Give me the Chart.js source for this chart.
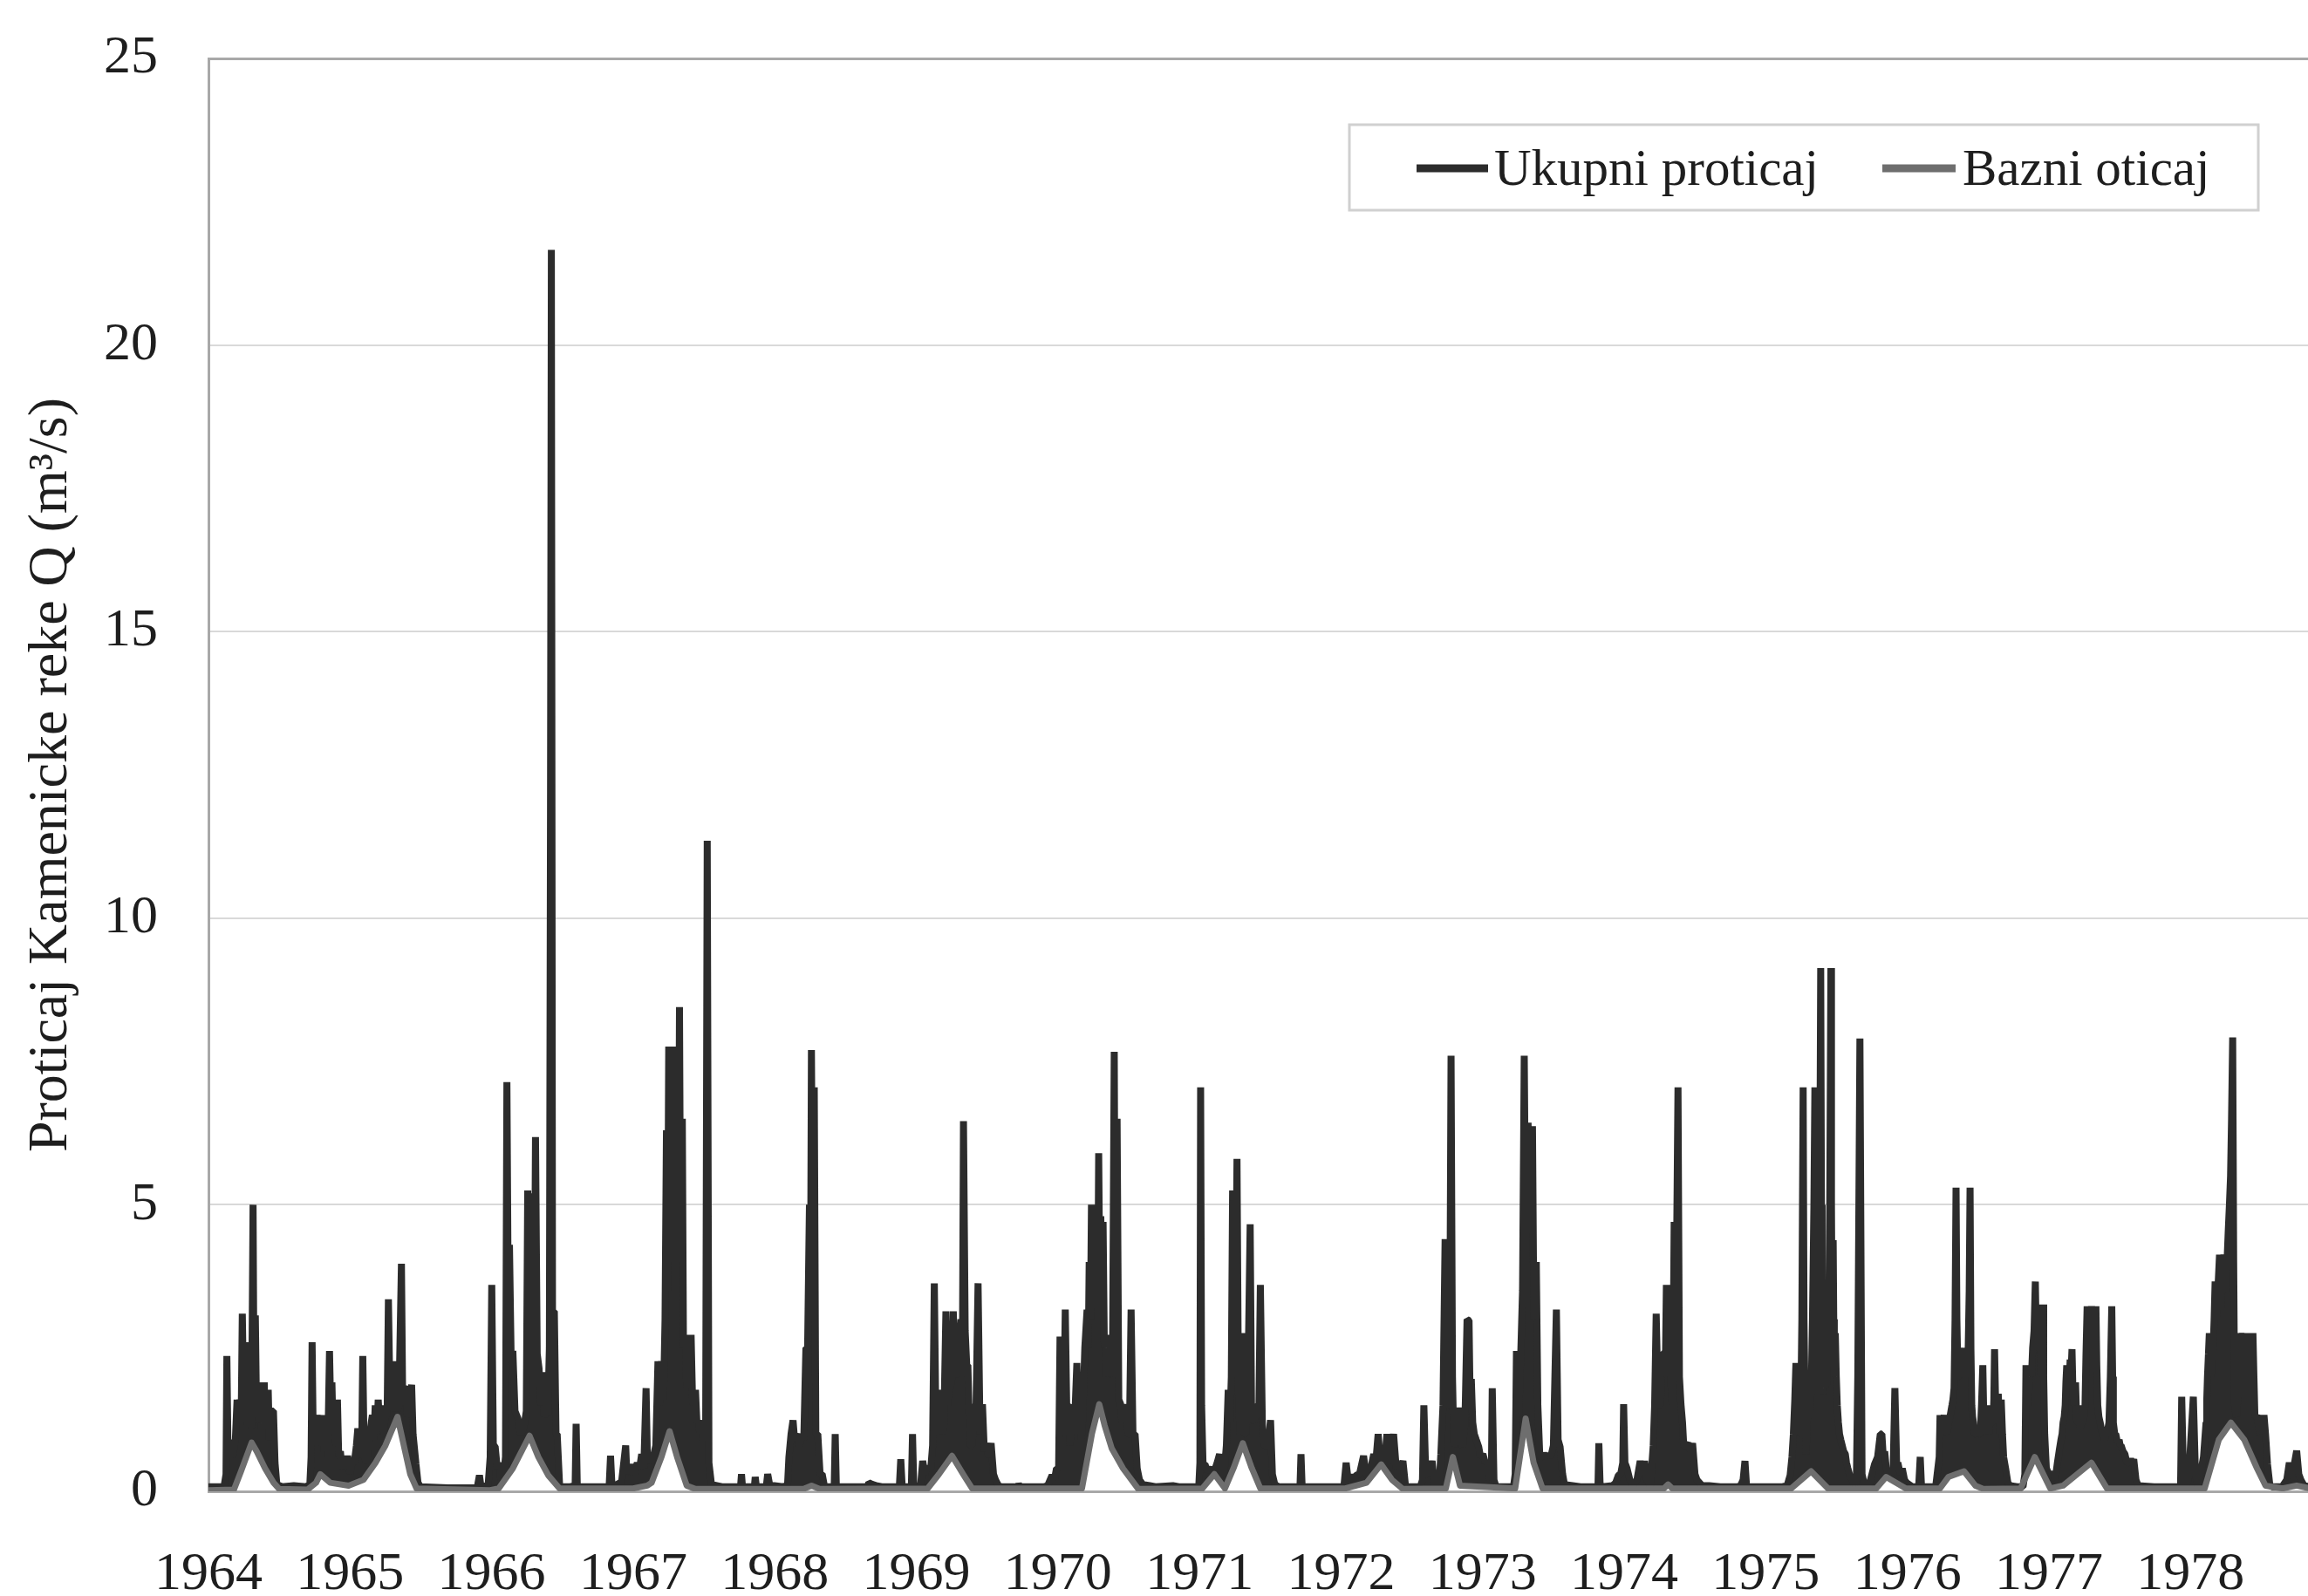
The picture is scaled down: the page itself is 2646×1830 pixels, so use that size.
<!DOCTYPE html>
<html>
<head>
<meta charset="utf-8">
<script src="https://cdn.jsdelivr.net/npm/chart.js@4.4.1/dist/chart.umd.min.js"></script>
<style>
html,body{margin:0;padding:0;background:#ffffff;}
canvas{display:block;}
</style>
</head>
<body>
<canvas id="chart" width="2646" height="1830"></canvas>
<script>
// ---------------- DATA ----------------
const startYear = 1964;                       // time values below are years since 1 Jan 1964
const yearLabels = [1964,1965,1966,1967,1968,1969,1970,1971,1972,1973,1974,1975,1976,1977,1978];
const yTicks = [0,5,10,15,20,25];
const seriesNames = ['Ukupni proticaj','Bazni oticaj'];
const axisTitle = 'Proticaj Kamenicke reke Q (m³/s)';

// Ukupni proticaj (total discharge), [t, Q]
const total1964 = [[0.000,0.08],[0.110,0.08],[0.124,0.3],[0.130,2.36],[0.138,0.7],[0.150,0.65],[0.162,0.9],[0.171,0.6],[0.190,0.9],[0.202,1.6],[0.212,1.2],[0.222,1.6],[0.231,1.2],[0.239,3.1],[0.249,1.5],[0.263,2.6],[0.270,1.3],[0.278,1.15],[0.290,1.4],[0.304,1.1],[0.315,5.0],[0.322,1.6],[0.331,3.07],[0.340,1.3],[0.350,1.5],[0.356,1.2],[0.364,1.5],[0.372,1.1],[0.380,1.9],[0.387,1.2],[0.394,1.9],[0.401,1.1],[0.410,1.5],[0.422,1.77],[0.430,0.9],[0.445,1.4],[0.459,1.4],[0.470,0.5],[0.483,0.12],[0.520,0.08],[0.603,0.1],[0.690,0.08]];
const total1965 = [[0.716,0.12],[0.725,0.6],[0.732,2.6],[0.740,0.9],[0.746,1.3],[0.756,0.8],[0.767,1.33],[0.777,0.9],[0.788,1.33],[0.798,0.8],[0.808,1.33],[0.818,0.7],[0.829,1.2],[0.842,0.6],[0.855,2.45],[0.865,1.2],[0.872,1.9],[0.880,1.0],[0.890,1.6],[0.900,0.8],[0.911,1.6],[0.920,0.6],[0.932,0.7],[0.942,0.4],[0.952,0.6],[0.965,0.4],[0.983,0.62],[1.000,0.3],[1.014,0.5],[1.030,0.5],[1.045,0.8],[1.055,1.1],[1.070,0.6],[1.082,0.7],[1.090,2.36],[1.100,0.6],[1.117,0.5],[1.135,0.9],[1.150,1.2],[1.158,1.33],[1.168,0.9],[1.178,1.5],[1.188,1.0],[1.199,1.6],[1.210,1.1],[1.230,1.33],[1.240,1.0],[1.250,1.5],[1.262,1.3],[1.271,3.35],[1.282,1.6],[1.292,1.9],[1.302,2.27],[1.312,1.4],[1.322,1.8],[1.332,1.4],[1.345,1.5],[1.363,3.97],[1.372,1.5],[1.385,1.8],[1.394,1.83],[1.405,1.3],[1.420,1.5],[1.435,1.86],[1.445,1.0],[1.466,0.47],[1.480,0.15],[1.497,0.08],[1.692,0.06],[1.898,0.06]];
const total1966 = [[1.914,0.28],[1.925,0.08],[1.975,0.1],[1.990,0.6],[2.001,3.6],[2.012,0.8],[2.025,0.78],[2.040,0.4],[2.052,0.5],[2.065,0.2],[2.083,0.25],[2.098,0.6],[2.108,7.14],[2.118,3.0],[2.126,4.3],[2.138,2.3],[2.150,2.45],[2.165,1.4],[2.186,1.27],[2.205,1.0],[2.227,1.1],[2.245,1.4],[2.255,5.25],[2.265,2.0],[2.272,5.2],[2.282,2.6],[2.290,4.5],[2.300,2.0],[2.310,6.18],[2.322,2.4],[2.335,2.14],[2.348,1.5],[2.361,2.08],[2.372,1.3],[2.385,1.5],[2.397,1.33],[2.408,2.5],[2.416,11.9],[2.422,21.66],[2.430,3.14],[2.443,3.14],[2.455,1.0],[2.463,1.0],[2.480,0.12],[2.494,0.08],[2.556,0.08],[2.590,0.1],[2.597,1.18],[2.605,0.1],[2.618,0.08],[2.700,0.08],[2.830,0.08]];
const total1967 = [[2.840,0.62],[2.850,0.1],[2.870,0.1],[2.906,0.15],[2.915,0.1],[2.947,0.8],[2.955,0.3],[2.967,0.47],[2.980,0.3],[2.998,0.47],[3.010,0.3],[3.029,0.5],[3.045,0.4],[3.060,0.65],[3.075,0.4],[3.091,1.8],[3.100,0.6],[3.111,0.65],[3.125,0.5],[3.142,0.6],[3.160,0.8],[3.175,2.27],[3.185,1.5],[3.200,2.27],[3.214,1.6],[3.225,3.0],[3.235,6.3],[3.243,3.5],[3.251,7.76],[3.258,4.0],[3.265,7.76],[3.272,4.5],[3.282,7.76],[3.290,5.0],[3.296,7.76],[3.305,4.0],[3.312,6.5],[3.320,4.5],[3.327,8.45],[3.335,4.0],[3.347,6.5],[3.355,2.5],[3.368,2.73],[3.378,1.8],[3.389,2.73],[3.399,2.0],[3.409,2.73],[3.420,1.5],[3.440,1.77],[3.450,1.2],[3.461,1.24],[3.471,1.0],[3.481,1.24],[3.491,0.9],[3.502,1.24],[3.512,1.0],[3.523,11.35],[3.535,0.5],[3.553,0.12],[3.626,0.08],[3.728,0.08],[3.758,0.08],[3.765,0.3],[3.772,0.08],[3.856,0.08],[3.862,0.25],[3.870,0.08],[3.940,0.08],[3.950,0.3],[3.965,0.1],[3.996,0.1],[4.057,0.08]];
const total1968 = [[4.090,0.1],[4.100,0.6],[4.115,1.0],[4.129,1.24],[4.140,0.9],[4.160,1.0],[4.175,0.8],[4.191,1.0],[4.205,0.9],[4.220,2.5],[4.232,2.5],[4.245,5.0],[4.252,3.0],[4.259,7.7],[4.268,4.0],[4.279,7.05],[4.290,1.0],[4.304,1.0],[4.320,0.3],[4.335,0.3],[4.350,0.1],[4.366,0.08],[4.420,0.08],[4.427,1.0],[4.435,0.08],[4.551,0.08],[4.655,0.08]];
const total1969 = [[4.664,0.15],[4.690,0.12],[4.715,0.1],[4.756,0.08],[4.880,0.08],[4.890,0.56],[4.900,0.08],[4.965,0.08],[4.973,1.0],[4.982,0.08],[5.030,0.1],[5.045,0.53],[5.060,0.3],[5.075,0.4],[5.102,0.4],[5.115,0.8],[5.127,3.63],[5.138,1.2],[5.150,1.77],[5.165,1.0],[5.178,1.4],[5.193,1.0],[5.209,3.14],[5.220,1.5],[5.230,1.77],[5.240,1.8],[5.252,2.0],[5.261,3.14],[5.275,2.0],[5.291,2.1],[5.300,2.5],[5.315,3.0],[5.325,2.0],[5.333,6.46],[5.345,2.8],[5.356,2.2],[5.364,2.2],[5.378,0.8],[5.394,0.8],[5.410,1.5],[5.422,1.5],[5.436,3.63],[5.450,1.0],[5.467,1.52],[5.480,0.7],[5.497,0.84],[5.510,0.6],[5.528,0.84],[5.545,0.3],[5.559,0.2],[5.580,0.1],[5.600,0.08],[5.715,0.08],[5.723,0.12],[5.735,0.08],[5.867,0.08]];
const total1970 = [[5.900,0.08],[5.928,0.1],[5.959,0.28],[5.975,0.2],[5.990,0.4],[6.005,0.4],[6.015,2.7],[6.021,1.5],[6.030,2.7],[6.040,1.0],[6.052,3.17],[6.062,1.5],[6.072,1.52],[6.085,0.8],[6.103,1.52],[6.115,1.0],[6.134,2.24],[6.145,1.0],[6.155,1.27],[6.165,0.9],[6.175,1.27],[6.190,2.5],[6.206,3.17],[6.215,2.5],[6.221,4.0],[6.230,3.0],[6.237,5.0],[6.245,3.5],[6.258,5.0],[6.266,3.5],[6.274,4.5],[6.281,3.0],[6.288,5.9],[6.296,3.5],[6.303,4.8],[6.311,3.0],[6.319,4.7],[6.328,2.5],[6.336,2.73],[6.343,2.0],[6.350,2.73],[6.360,2.0],[6.371,2.2],[6.385,2.0],[6.398,7.67],[6.405,3.0],[6.418,6.5],[6.430,1.6],[6.443,1.52],[6.453,1.2],[6.463,1.52],[6.473,1.2],[6.484,1.52],[6.495,1.0],[6.505,1.0],[6.517,3.17],[6.530,1.0],[6.545,1.0],[6.560,0.4],[6.576,0.2],[6.600,0.12],[6.648,0.1],[6.689,0.08],[6.812,0.1],[6.854,0.08],[6.957,0.08]];
const total1971 = [[6.995,0.08],[7.003,0.5],[7.008,7.05],[7.015,1.5],[7.025,0.47],[7.039,0.47],[7.055,0.35],[7.080,0.4],[7.095,0.35],[7.111,0.4],[7.125,0.5],[7.142,0.65],[7.155,0.3],[7.173,0.28],[7.190,0.8],[7.203,1.77],[7.215,1.2],[7.225,2.0],[7.234,5.25],[7.245,2.0],[7.255,3.0],[7.265,5.8],[7.275,1.8],[7.286,1.0],[7.296,2.0],[7.306,2.76],[7.316,1.0],[7.327,1.0],[7.340,1.5],[7.358,4.66],[7.368,1.3],[7.378,1.3],[7.389,1.2],[7.405,1.5],[7.420,1.5],[7.430,3.6],[7.445,1.0],[7.461,0.78],[7.480,0.8],[7.495,1.1],[7.502,1.24],[7.515,0.3],[7.532,0.12],[7.560,0.08],[7.676,0.08],[7.710,0.08],[7.717,0.65],[7.725,0.08],[7.985,0.08]];
const total1972 = [[8.020,0.08],[8.036,0.5],[8.050,0.2],[8.067,0.28],[8.085,0.2],[8.108,0.28],[8.130,0.3],[8.159,0.62],[8.175,0.3],[8.190,0.28],[8.210,0.4],[8.231,0.65],[8.245,0.5],[8.262,1.0],[8.278,0.5],[8.293,0.65],[8.308,0.5],[8.324,1.0],[8.340,0.5],[8.354,0.6],[8.371,1.0],[8.390,0.4],[8.406,0.47],[8.420,0.4],[8.437,0.53],[8.455,0.1],[8.468,0.08],[8.560,0.08],[8.575,0.2],[8.585,1.5],[8.598,0.3],[8.612,0.3],[8.630,0.4],[8.643,0.53],[8.660,0.1],[8.674,0.08]];
const total1973 = [[8.695,0.2],[8.705,0.65],[8.720,1.5],[8.735,4.4],[8.746,1.5],[8.756,1.46],[8.767,2.0],[8.777,7.6],[8.787,2.0],[8.797,0.78],[8.815,1.2],[8.828,1.46],[8.840,0.9],[8.859,0.78],[8.875,1.2],[8.890,3.0],[8.904,2.98],[8.912,1.5],[8.920,1.96],[8.930,1.2],[8.941,1.0],[8.955,0.9],[8.972,0.78],[8.985,0.6],[9.002,0.65],[9.018,0.5],[9.033,0.53],[9.050,0.2],[9.062,0.3],[9.068,1.8],[9.080,0.2],[9.095,0.08],[9.218,0.08],[9.230,0.3],[9.239,2.45],[9.255,1.3],[9.270,2.45],[9.282,3.5],[9.294,7.6],[9.305,4.0],[9.315,6.0],[9.321,6.43],[9.330,4.5],[9.340,5.5],[9.352,6.37],[9.362,3.0],[9.370,3.5],[9.379,4.0],[9.390,1.5],[9.404,0.6],[9.420,0.6],[9.434,0.65],[9.450,0.6],[9.465,0.65],[9.476,0.6],[9.486,0.65],[9.500,0.8],[9.521,3.17],[9.533,0.9],[9.547,0.78],[9.565,0.3],[9.578,0.12],[9.691,0.08]];
const total1974 = [[9.794,0.08],[9.815,0.1],[9.821,0.84],[9.830,0.1],[9.846,0.08],[9.917,0.1],[9.940,0.15],[9.959,0.28],[9.975,0.3],[9.990,0.5],[9.996,1.52],[10.005,0.5],[10.020,0.4],[10.040,0.2],[10.061,0.1],[10.090,0.2],[10.113,0.53],[10.128,0.3],[10.144,0.53],[10.160,0.2],[10.185,0.1],[10.205,0.8],[10.215,1.5],[10.226,3.1],[10.240,1.5],[10.257,1.52],[10.268,2.4],[10.277,2.4],[10.290,2.0],[10.298,3.6],[10.308,2.5],[10.318,3.6],[10.328,2.0],[10.339,1.52],[10.346,2.5],[10.353,4.7],[10.366,3.0],[10.380,7.05],[10.390,2.0],[10.401,1.52],[10.412,1.2],[10.421,0.78],[10.437,0.8],[10.452,0.84],[10.468,0.7],[10.483,0.84],[10.500,0.3],[10.514,0.2],[10.550,0.1],[10.600,0.1],[10.678,0.08]];
const total1975 = [[10.800,0.08],[10.822,0.1],[10.840,0.2],[10.853,0.53],[10.864,0.1],[10.874,0.08],[11.048,0.08],[11.120,0.08],[11.151,0.1],[11.172,0.28],[11.185,0.6],[11.195,1.0],[11.205,1.6],[11.213,2.24],[11.219,1.4],[11.224,1.2],[11.229,1.8],[11.234,2.24],[11.240,1.5],[11.245,1.0],[11.250,2.0],[11.255,3.0],[11.264,7.05],[11.270,3.0],[11.275,2.0],[11.280,1.2],[11.285,0.65],[11.292,1.2],[11.300,1.5],[11.308,1.3],[11.316,1.52],[11.323,2.0],[11.330,3.0],[11.335,4.0],[11.340,5.0],[11.347,7.05],[11.355,4.0],[11.361,1.7],[11.368,2.5],[11.375,3.5],[11.381,5.0],[11.388,9.13],[11.393,5.0],[11.398,3.0],[11.403,2.2],[11.408,1.7],[11.413,2.0],[11.418,1.8],[11.424,2.2],[11.429,1.84],[11.437,2.4],[11.445,3.0],[11.452,5.0],[11.460,9.13],[11.464,5.0],[11.468,3.0],[11.472,3.8],[11.476,4.38],[11.480,3.0],[11.484,2.0],[11.488,2.5],[11.491,2.76],[11.498,2.0],[11.505,1.5],[11.513,1.2],[11.521,1.0],[11.530,0.9],[11.540,0.8],[11.550,0.7],[11.562,0.65],[11.570,0.5],[11.580,0.4],[11.593,0.28],[11.610,0.2],[11.624,0.12],[11.640,0.2],[11.650,2.0],[11.665,7.9],[11.680,0.3],[11.696,0.12],[11.727,0.08],[11.768,0.47],[11.790,0.6],[11.809,1.0],[11.820,1.0],[11.830,0.6]];
const total1976 = [[11.840,0.7],[11.851,0.4],[11.870,0.3],[11.882,0.28],[11.900,0.4],[11.912,1.8],[11.925,0.4],[11.933,0.5],[11.950,0.3],[11.964,0.4],[11.980,0.2],[11.994,0.15],[12.035,0.08],[12.080,0.08],[12.091,0.6],[12.100,0.08],[12.200,0.08],[12.225,0.6],[12.231,1.33],[12.238,1.1],[12.245,1.0],[12.252,1.2],[12.260,1.33],[12.270,1.1],[12.280,1.0],[12.292,1.2],[12.303,1.33],[12.315,1.5],[12.322,1.6],[12.330,1.8],[12.337,3.0],[12.344,5.3],[12.350,3.0],[12.355,2.3],[12.360,2.0],[12.365,2.5],[12.370,2.2],[12.375,2.0],[12.382,2.4],[12.390,2.5],[12.398,2.2],[12.406,2.5],[12.412,2.2],[12.418,2.0],[12.424,2.3],[12.430,2.5],[12.437,3.5],[12.443,5.3],[12.449,2.5],[12.455,1.5],[12.461,1.3],[12.467,1.2],[12.473,1.0],[12.480,1.0],[12.489,1.1],[12.498,1.1],[12.506,1.0],[12.515,1.0],[12.524,1.5],[12.533,2.2],[12.539,1.4],[12.545,1.0],[12.552,1.3],[12.560,1.5],[12.567,1.2],[12.575,1.0],[12.583,1.3],[12.591,1.4],[12.598,1.2],[12.605,1.2],[12.611,1.6],[12.616,2.48],[12.623,1.6],[12.630,1.2],[12.636,1.4],[12.642,1.7],[12.649,1.3],[12.655,1.0],[12.663,1.6],[12.672,1.0],[12.680,0.6],[12.694,0.4],[12.710,0.15],[12.725,0.1],[12.776,0.08]];
const total1977 = [[12.817,0.08],[12.830,0.3],[12.838,2.2],[12.844,1.8],[12.850,1.5],[12.860,1.8],[12.869,2.2],[12.877,2.0],[12.885,2.5],[12.895,2.8],[12.904,3.66],[12.910,2.8],[12.915,2.5],[12.923,2.8],[12.931,3.26],[12.938,2.5],[12.945,2.0],[12.951,2.6],[12.957,3.26],[12.963,2.0],[12.970,1.0],[12.982,0.4],[13.000,0.3],[13.013,0.3],[13.030,0.3],[13.044,0.2],[13.060,0.5],[13.072,0.7],[13.085,0.9],[13.093,1.0],[13.100,1.2],[13.108,1.3],[13.115,1.5],[13.120,1.9],[13.126,2.2],[13.133,1.9],[13.140,1.8],[13.145,2.0],[13.150,2.3],[13.157,2.1],[13.163,2.48],[13.169,1.8],[13.175,1.5],[13.182,1.7],[13.188,1.9],[13.193,1.5],[13.198,1.2],[13.203,1.4],[13.208,1.5],[13.214,1.2],[13.220,1.1],[13.230,1.2],[13.239,1.2],[13.247,1.3],[13.255,1.5],[13.262,2.4],[13.270,3.23],[13.277,2.8],[13.285,2.5],[13.293,2.9],[13.301,3.23],[13.308,2.8],[13.315,2.5],[13.323,2.9],[13.332,3.23],[13.338,2.2],[13.345,1.5],[13.353,1.3],[13.362,1.2],[13.370,1.1],[13.378,1.0],[13.385,1.0],[13.393,0.9],[13.402,1.0],[13.410,1.0],[13.417,1.1],[13.424,1.2],[13.434,2.0],[13.444,3.23],[13.450,2.0],[13.455,1.2],[13.460,1.1],[13.465,1.0],[13.472,1.0],[13.480,0.9],[13.488,0.85],[13.496,0.9],[13.503,0.8],[13.510,0.8],[13.523,0.7],[13.537,0.65],[13.550,0.5],[13.565,0.5],[13.578,0.56],[13.590,0.5],[13.599,0.56],[13.615,0.2],[13.630,0.1],[13.743,0.08],[13.907,0.08]];
const total1978 = [[13.930,0.1],[13.938,1.65],[13.950,0.3],[13.969,0.1],[13.985,0.2],[13.993,0.5],[14.020,1.65],[14.035,0.3],[14.051,0.1],[14.070,0.3],[14.092,0.6],[14.101,0.9],[14.110,1.2],[14.115,1.6],[14.120,2.0],[14.127,2.4],[14.133,2.76],[14.139,2.3],[14.145,2.0],[14.152,2.3],[14.160,2.5],[14.167,3.0],[14.174,3.66],[14.180,3.3],[14.185,3.0],[14.195,3.6],[14.205,4.13],[14.210,3.6],[14.215,3.2],[14.225,3.7],[14.236,4.13],[14.243,3.8],[14.250,3.5],[14.258,4.0],[14.267,4.56],[14.275,5.0],[14.283,5.5],[14.290,6.5],[14.298,7.92],[14.305,4.0],[14.312,1.5],[14.318,1.4],[14.325,1.3],[14.333,1.6],[14.340,2.0],[14.348,2.4],[14.355,2.76],[14.362,2.5],[14.369,2.76],[14.377,2.1],[14.385,1.5],[14.393,2.1],[14.400,2.76],[14.410,2.1],[14.420,1.5],[14.430,2.0],[14.441,2.76],[14.448,2.0],[14.455,1.3],[14.464,1.3],[14.472,1.33],[14.481,1.1],[14.490,1.0],[14.499,1.33],[14.509,1.1],[14.519,1.33],[14.530,1.0],[14.544,0.47],[14.560,0.12],[14.575,0.08],[14.647,0.08],[14.680,0.2],[14.698,0.5],[14.715,0.3],[14.735,0.5],[14.750,0.71],[14.765,0.3],[14.780,0.2],[14.802,0.1],[14.849,0.08]];

// Bazni oticaj (baseflow), [t, Q]
const base1964to1969 = [[0.000,0.02],[0.180,0.03],[0.230,0.35],[0.305,0.85],[0.340,0.7],[0.400,0.4],[0.460,0.15],[0.500,0.04],[0.700,0.03],[0.760,0.15],[0.790,0.3],[0.860,0.15],[0.990,0.1],[1.095,0.2],[1.180,0.5],[1.250,0.8],[1.335,1.3],[1.380,0.8],[1.425,0.3],[1.470,0.05],[1.990,0.02],[2.050,0.05],[2.150,0.4],[2.268,0.97],[2.330,0.6],[2.400,0.28],[2.480,0.05],[3.000,0.05],[3.100,0.1],[3.130,0.15],[3.200,0.6],[3.257,1.05],[3.310,0.6],[3.378,0.1],[3.440,0.04],[4.200,0.04],[4.260,0.1],[4.320,0.04],[5.080,0.05],[5.160,0.3],[5.252,0.62],[5.330,0.3],[5.394,0.05]];
const base1970to1974 = [[6.170,0.05],[6.240,1.0],[6.292,1.52],[6.330,1.15],[6.380,0.75],[6.460,0.4],[6.568,0.04],[7.020,0.05],[7.105,0.3],[7.180,0.05],[7.240,0.4],[7.306,0.84],[7.370,0.4],[7.430,0.05],[8.030,0.05],[8.180,0.15],[8.283,0.47],[8.360,0.2],[8.437,0.04],[8.740,0.05],[8.790,0.6],[8.840,0.1],[9.230,0.05],[9.304,1.27],[9.360,0.5],[9.423,0.05],[10.280,0.05],[10.310,0.12],[10.340,0.05]];
const base1975to1978 = [[11.180,0.05],[11.320,0.35],[11.440,0.05],[11.780,0.05],[11.850,0.25],[11.990,0.05],[12.230,0.05],[12.290,0.25],[12.400,0.35],[12.480,0.1],[12.540,0.04],[12.800,0.05],[12.900,0.6],[13.010,0.05],[13.100,0.1],[13.300,0.5],[13.410,0.05],[14.100,0.05],[14.200,0.9],[14.285,1.2],[14.380,0.9],[14.470,0.4],[14.530,0.1],[14.650,0.05],[14.750,0.1],[14.849,0.05]];

// ---------------- BUILD ----------------
const toPoints = arr => arr.map(([t, v]) => ({x: startYear + t, y: v})).sort((a, b) => a.x - b.x);
const totalFlow = toPoints([].concat(total1964,total1965,total1966,total1967,total1968,total1969,total1970,total1971,total1972,total1973,total1974,total1975,total1976,total1977,total1978));
const baseFlow = toPoints([].concat(base1964to1969, base1970to1974, base1975to1978));

const FONT = "'Liberation Serif', 'Times New Roman', serif";
const TEXT = '#1e1e1e';
const TOTAL_COLOR = '#2c2c2c';
const BASE_COLOR = '#6e6e6e';

const boxLegend = {
  id: 'boxLegend',
  afterDraw(chart) {
    const ctx = chart.ctx;
    const ds = chart.data.datasets;
    ctx.save();
    ctx.strokeStyle = '#d0d0d0';
    ctx.lineWidth = 3;
    ctx.strokeRect(1547, 143, 1042, 98);
    const items = [
      {d: ds[0], x0: 1624, x1: 1706, tx: 1713},
      {d: ds[1], x0: 2158, x1: 2242, tx: 2250}
    ];
    ctx.font = '59px ' + FONT;
    ctx.textBaseline = 'alphabetic';
    ctx.textAlign = 'left';
    items.forEach(it => {
      ctx.strokeStyle = it.d.borderColor;
      ctx.lineWidth = 9;
      ctx.lineCap = 'butt';
      ctx.beginPath();
      ctx.moveTo(it.x0, 193);
      ctx.lineTo(it.x1, 193);
      ctx.stroke();
      ctx.fillStyle = TEXT;
      ctx.fillText(it.d.label, it.tx, 212);
    });
    ctx.restore();
  }
};

new Chart(document.getElementById('chart'), {
  type: 'line',
  data: {
    datasets: [
      {label: seriesNames[0], data: totalFlow, borderColor: TOTAL_COLOR, backgroundColor: TOTAL_COLOR,
       borderWidth: 8, pointRadius: 0, tension: 0, order: 1, borderJoinStyle: 'bevel',
       fill: {target: 1}},
      {label: seriesNames[1], data: baseFlow, borderColor: BASE_COLOR, backgroundColor: BASE_COLOR,
       borderWidth: 7, pointRadius: 0, tension: 0, order: 0, borderJoinStyle: 'round', fill: false}
    ]
  },
  options: {
    responsive: false,
    animation: false,
    devicePixelRatio: 1,
    parsing: false,
    normalized: true,
    layout: {padding: {top: 67, right: 0, bottom: 0, left: 0}},
    plugins: {legend: {display: false}, tooltip: {enabled: false}, filler: {propagate: false}},
    scales: {
      x: {
        type: 'linear',
        min: 1964,
        max: 1978.83,
        afterBuildTicks: s => { s.ticks = yearLabels.map(v => ({value: v})); },
        afterFit: s => { s.height = 120; s.paddingRight = 0; },
        ticks: {autoSkip: false, maxRotation: 0, minRotation: 0, padding: 59, color: TEXT,
                font: {family: FONT, size: 62}, callback: v => String(v)},
        grid: {display: false, drawTicks: false},
        border: {display: true, color: '#a8a8a8', width: 3}
      },
      y: {
        type: 'linear',
        min: 0,
        max: 25,
        afterBuildTicks: s => { s.ticks = yTicks.map(v => ({value: v})); },
        afterFit: s => { s.width = 239; s.paddingTop = 0; s.paddingBottom = 0; },
        ticks: {padding: 58, color: TEXT, font: {family: FONT, size: 62}, callback: v => String(v)},
        grid: {
          drawTicks: false,
          color: c => (c.tick && c.tick.value === 25) ? '#a8a8a8' : '#d9d9d9',
          lineWidth: c => (c.tick && c.tick.value === 25) ? 3 : 2
        },
        border: {display: true, color: '#a8a8a8', width: 3},
        title: {display: true, text: axisTitle, color: TEXT, font: {family: FONT, size: 64},
                padding: {top: 21, bottom: 0}}
      }
    }
  },
  plugins: [boxLegend]
});
</script>
</body>
</html>
